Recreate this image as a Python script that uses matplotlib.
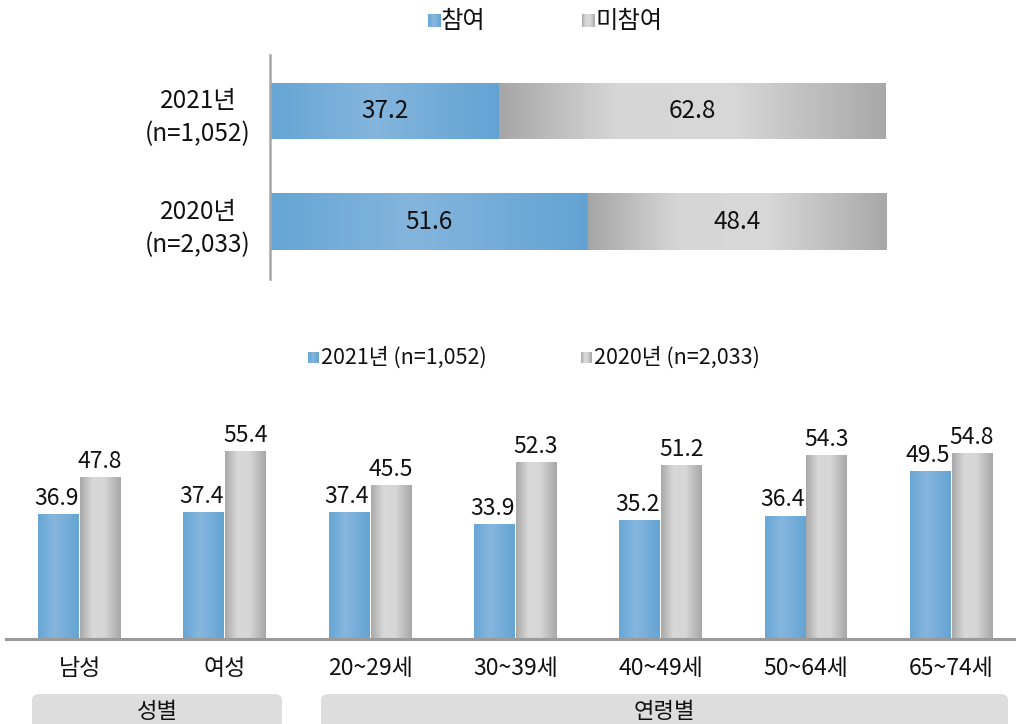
import numpy as np
import matplotlib
matplotlib.use("Agg")
import matplotlib.pyplot as plt
from matplotlib.colors import LinearSegmentedColormap
from matplotlib.patches import Rectangle, FancyBboxPatch

plt.rcParams['font.family'] = ['Noto Sans CJK KR', 'DejaVu Sans']

# ---------------- data ----------------
top_years = ["2021년\n(n=1,052)", "2020년\n(n=2,033)"]
participate = [37.2, 51.6]
not_participate = [62.8, 48.4]
top_legend = ["참여", "미참여"]

categories = ["남성", "여성", "20~29세", "30~39세", "40~49세", "50~64세", "65~74세"]
values_2021 = [36.9, 37.4, 37.4, 33.9, 35.2, 36.4, 49.5]
values_2020 = [47.8, 55.4, 45.5, 52.3, 51.2, 54.3, 54.8]
bottom_legend = ["2021년 (n=1,052)", "2020년 (n=2,033)"]
group_labels = ["성별", "연령별"]

# ---------------- styles ----------------
blue_cmap = LinearSegmentedColormap.from_list(
    "b", [(0, "#66a5d4"), (0.45, "#84b5dd"), (1, "#63a3d3")])
gray_cmap = LinearSegmentedColormap.from_list(
    "g", [(0, "#a6a6a6"), (0.3, "#d6d6d6"), (0.6, "#d8d8d8"), (1, "#a8a8a8")])
blue_cmap_v = LinearSegmentedColormap.from_list(
    "bv", [(0, "#67a6d5"), (0.4, "#86b6de"), (1, "#64a4d3")])
gray_cmap_v = LinearSegmentedColormap.from_list(
    "gv", [(0, "#a8a8a8"), (0.3, "#d8d8d8"), (0.6, "#d6d6d6"), (1, "#a6a6a6")])

W, H = 1016, 724
fig = plt.figure(figsize=(W / 100, H / 100), dpi=100)


def fx(px):
    return px / W


def fy(py):
    return 1 - py / H


def gradient_fill(ax, patches, cmap):
    grad = np.linspace(0, 1, 256).reshape(1, -1)
    for p in patches:
        x0, y0 = p.get_x(), p.get_y()
        w, h = p.get_width(), p.get_height()
        im = ax.imshow(grad, cmap=cmap, aspect="auto",
                       extent=[x0, x0 + w, y0, y0 + h], zorder=p.get_zorder() + 0.1,
                       interpolation="bicubic")
        im.set_clip_path(p)
        p.set_facecolor("none")


# ---------------- top chart ----------------
ax1 = fig.add_axes([fx(270), fy(279), fx(886 - 270), (279 - 55) / H])
ypos = np.arange(len(top_years))
bh = 0.514
b1 = ax1.barh(ypos, participate, height=bh, color="#75aed9", edgecolor="none")
b2 = ax1.barh(ypos, not_participate, left=participate, height=bh,
              color="#c8c8c8", edgecolor="none")
ax1.set_xlim(0, 100)
ax1.set_ylim(1.515, -0.505)
gradient_fill(ax1, b1.patches, blue_cmap)
gradient_fill(ax1, b2.patches, gray_cmap)
for i in range(len(top_years)):
    ax1.text(participate[i] / 2, ypos[i], f"{participate[i]:.1f}", ha="center",
             va="center", fontsize=17.5, color="#111111", zorder=5)
    ax1.text(participate[i] + not_participate[i] / 2, ypos[i], f"{not_participate[i]:.1f}",
             ha="center", va="center", fontsize=17.5, color="#111111", zorder=5)
for s in ["top", "right", "bottom"]:
    ax1.spines[s].set_visible(False)
ax1.spines["left"].set_color("#a6a6a6")
ax1.spines["left"].set_linewidth(1.8)
ax1.set_xticks([])
ax1.set_yticks(ypos)
ax1.set_yticklabels(top_years, fontsize=17.5, linespacing=1.35, ha="center", color="#111111")
ax1.tick_params(axis="y", length=0, pad=70)

# top legend (manual)
def legend_square(x, y, size, cmap):
    n = 12
    for k in range(n):
        fig.patches.append(Rectangle((fx(x + k * size / n), fy(y + size)), fx(size / n + 0.3),
                                     size / H, transform=fig.transFigure,
                                     color=cmap((k + 0.5) / n), lw=0))

legend_square(428, 14, 13, blue_cmap)
fig.text(fx(441), fy(21), top_legend[0], fontsize=17.5, va="center", ha="left", color="#111111")
legend_square(582, 14, 13, gray_cmap)
fig.text(fx(595), fy(21), top_legend[1], fontsize=17.5, va="center", ha="left", color="#111111")

# ---------------- bottom chart ----------------
ax2 = fig.add_axes([fx(6), fy(639), fx(1010), (639 - 380) / H])
x = np.arange(len(categories))
bw = 0.282
c1 = ax2.bar(x - bw / 2 - 0.003, values_2021, width=bw, color="#75aed9", edgecolor="none")
c2 = ax2.bar(x + bw / 2 + 0.003, values_2020, width=bw, color="#c8c8c8", edgecolor="none")
ax2.set_xlim(-0.506, 6.445)
ax2.set_ylim(0, (639 - 380) / 3.39)
gradient_fill(ax2, c1.patches, blue_cmap_v)
gradient_fill(ax2, c2.patches, gray_cmap_v)
for i in range(len(categories)):
    ax2.annotate(f"{values_2021[i]:.1f}", (x[i] - bw / 2 - 0.02, values_2021[i]),
                 xytext=(0, 3), textcoords="offset points", ha="center", va="bottom",
                 fontsize=16.5, color="#111111")
    ax2.annotate(f"{values_2020[i]:.1f}", (x[i] + bw / 2, values_2020[i]),
                 xytext=(0, 3), textcoords="offset points", ha="center", va="bottom",
                 fontsize=16.5, color="#111111")
for s in ["top", "right", "left"]:
    ax2.spines[s].set_visible(False)
ax2.spines["bottom"].set_color("#9a9a9a")
ax2.spines["bottom"].set_linewidth(2.2)
ax2.set_yticks([])
ax2.set_xticks(x)
ax2.set_xticklabels(categories, fontsize=16.5, color="#111111")
ax2.tick_params(axis="x", length=0, pad=13)

# bottom legend (manual)
legend_square(308, 352, 11, blue_cmap)
fig.text(fx(321), fy(358), bottom_legend[0], fontsize=15.5, va="center", ha="left", color="#111111")
legend_square(581, 352, 11, gray_cmap_v)
fig.text(fx(594), fy(358), bottom_legend[1], fontsize=15.5, va="center", ha="left", color="#111111")

# group boxes
for (x0, x1), lab in zip([(32, 282), (321, 1008)], group_labels):
    fig.patches.append(FancyBboxPatch((fx(x0), fy(740)), fx(x1 - x0), (740 - 694) / H,
                                      boxstyle="round,pad=0,rounding_size=0.008",
                                      transform=fig.transFigure, facecolor="#dddddd",
                                      edgecolor="none"))
    fig.text(fx((x0 + x1) / 2), fy(711), lab, fontsize=16, ha="center", va="center",
             color="#111111")

fig.canvas.draw()
# center the top y labels at x ~ 198 px
for t in ax1.get_yticklabels():
    pass
ax1.tick_params(axis="y", pad=(270 - 198) * 72 / 100)

fig.savefig("out.png", dpi=100)
